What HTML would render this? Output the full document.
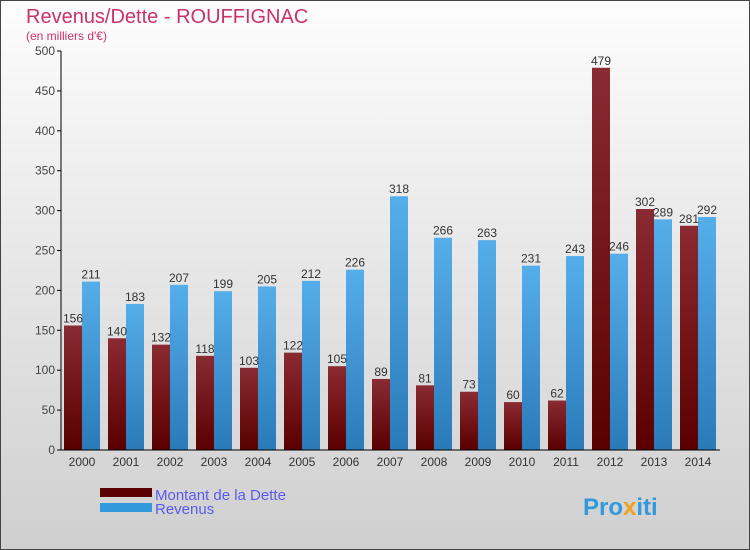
<!DOCTYPE html>
<html><head><meta charset="utf-8"><style>
body{margin:0}
#c{width:750px;height:550px;position:relative;overflow:hidden;font-family:"Liberation Sans",sans-serif;}
</style></head><body>
<div id="c">
<svg width="750" height="550" id="s">
<defs>
<linearGradient id="bg" x1="0" y1="0" x2="0" y2="1"><stop offset="0" stop-color="#fdfdfd"/><stop offset="1" stop-color="#cfcfcf"/></linearGradient>
<linearGradient id="gd" x1="0" y1="0" x2="0" y2="1"><stop offset="0" stop-color="#8a2a32"/><stop offset="1" stop-color="#5a0000"/></linearGradient>
<linearGradient id="gr" x1="0" y1="0" x2="0" y2="1"><stop offset="0" stop-color="#55aeea"/><stop offset="1" stop-color="#2a7ab8"/></linearGradient>
</defs>
<rect x="0.5" y="0.5" width="749" height="549" fill="url(#bg)" stroke="#444"/>
<text x="26" y="23" font-size="20" fill="#c8336a">Revenus/Dette - ROUFFIGNAC</text>
<text x="26" y="40" font-size="12" fill="#c8336a">(en milliers d'€)</text>
<g id="g"></g>
<rect x="100" y="488" width="52" height="9" fill="#5a0000"/>
<text x="155" y="500" font-size="15" fill="#5a5af0">Montant de la Dette</text>
<rect x="100" y="503" width="52" height="9" fill="#3399dd"/>
<text x="155" y="514" font-size="15" fill="#5a5af0">Revenus</text>
<text x="583" y="515" font-size="24" font-weight="bold" fill="#3399dd">Pro<tspan fill="#f0a020">x</tspan>iti</text>
</svg>
</div>
<script>
const years=["2000","2001","2002","2003","2004","2005","2006","2007","2008","2009","2010","2011","2012","2013","2014"];
const dette=[156,140,132,118,103,122,105,89,81,73,60,62,479,302,281];
const revenus=[211,183,207,199,205,212,226,318,266,263,231,243,246,289,292];
const yTicks=[0,50,100,150,200,250,300,350,400,450,500];
const NS="http://www.w3.org/2000/svg";
const g=document.getElementById('g');
const y=v=>450-v*399/500;
const x=i=>82+i*44;
function mk(t,a){const e=document.createElementNS(NS,t);for(const k in a)e.setAttribute(k,a[k]);g.appendChild(e);return e;}
yTicks.forEach(v=>{
 const l=mk('line',{x1:57,x2:61,y1:y(v),y2:y(v),stroke:'#000'});
 
 
 const t=mk('text',{x:55,y:y(v)+4,'font-size':12,'text-anchor':'end',fill:'#444'});t.textContent=v;
 
 
});
years.forEach((yr,i)=>{
 const b1=mk('rect',{x:x(i)-18,y:y(dette[i]),width:18,height:450-y(dette[i]),fill:'url(#gd)'});
 
 
 const b2=mk('rect',{x:x(i),y:y(revenus[i]),width:18,height:450-y(revenus[i]),fill:'url(#gr)'});
 
 
 const t1=mk('text',{x:x(i)-9,y:y(dette[i])-3,'font-size':12,'text-anchor':'middle',fill:'#333'});t1.textContent=dette[i];
 
 
 const t2=mk('text',{x:x(i)+9,y:y(revenus[i])-3,'font-size':12,'text-anchor':'middle',fill:'#333'});t2.textContent=revenus[i];
 
 
 const tl=mk('text',{x:x(i),y:466,'font-size':12,'text-anchor':'middle',fill:'#333'});tl.textContent=yr;
 
 
});
const ax=mk('path',{d:'M61 51V450H720',stroke:'#000',fill:'none'});


</script>
</body></html>
